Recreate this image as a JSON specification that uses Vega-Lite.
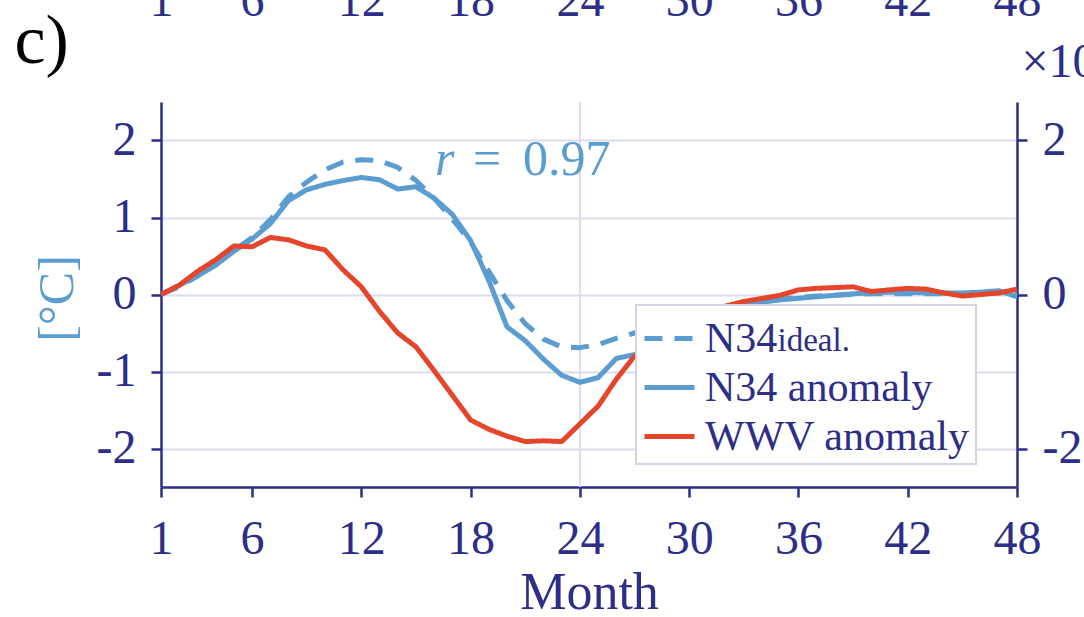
{
  "$schema": "https://vega.github.io/schema/vega-lite/v6.json",
  "width": 856,
  "height": 385,
  "autosize": "none",
  "padding": {"left": 161, "top": 102, "right": 67, "bottom": 130},
  "background": "white",
  "config": {
    "view": {"stroke": null},
    "font": "Liberation Serif",
    "axis": {
      "labelFont": "Liberation Serif",
      "titleFont": "Liberation Serif",
      "labelColor": "#2c2e87",
      "titleColor": "#2c2e87",
      "domainColor": "#2c2e87",
      "tickColor": "#2c2e87",
      "domainWidth": 2.5,
      "tickWidth": 2.5,
      "tickSize": 10,
      "labelFontSize": 48,
      "titleFontWeight": "normal",
      "labelFlush": false,
      "labelOverlap": false,
      "labelBound": false,
      "grid": false
    },
    "legend": {
      "orient": "none",
      "legendX": 475,
      "legendY": 203,
      "fillColor": "white",
      "strokeColor": "#d3d5e2",
      "strokeWidth": 2,
      "padding": 6,
      "symbolType": "stroke",
      "symbolSize": 2500,
      "symbolStrokeWidth": 5,
      "labelFont": "Liberation Serif",
      "labelFontSize": 42,
      "labelColor": "#2c2e87",
      "labelOffset": 8,
      "rowPadding": 0,
      "labelLimit": 400
    }
  },
  "datasets": {
    "series": [
      {"month":1,"series":"N34 anomaly","value":0.00},{"month":2,"series":"N34 anomaly","value":0.12},{"month":3,"series":"N34 anomaly","value":0.24},{"month":4,"series":"N34 anomaly","value":0.38},{"month":5,"series":"N34 anomaly","value":0.56},{"month":6,"series":"N34 anomaly","value":0.72},{"month":7,"series":"N34 anomaly","value":0.92},{"month":8,"series":"N34 anomaly","value":1.22},{"month":9,"series":"N34 anomaly","value":1.36},{"month":10,"series":"N34 anomaly","value":1.43},{"month":11,"series":"N34 anomaly","value":1.48},{"month":12,"series":"N34 anomaly","value":1.52},{"month":13,"series":"N34 anomaly","value":1.49},{"month":14,"series":"N34 anomaly","value":1.37},{"month":15,"series":"N34 anomaly","value":1.40},{"month":16,"series":"N34 anomaly","value":1.25},{"month":17,"series":"N34 anomaly","value":1.04},{"month":18,"series":"N34 anomaly","value":0.70},{"month":19,"series":"N34 anomaly","value":0.18},{"month":20,"series":"N34 anomaly","value":-0.42},{"month":21,"series":"N34 anomaly","value":-0.60},{"month":22,"series":"N34 anomaly","value":-0.84},{"month":23,"series":"N34 anomaly","value":-1.05},{"month":24,"series":"N34 anomaly","value":-1.14},{"month":25,"series":"N34 anomaly","value":-1.08},{"month":26,"series":"N34 anomaly","value":-0.83},{"month":27,"series":"N34 anomaly","value":-0.78},{"month":28,"series":"N34 anomaly","value":-0.62},{"month":29,"series":"N34 anomaly","value":-0.48},{"month":30,"series":"N34 anomaly","value":-0.36},{"month":31,"series":"N34 anomaly","value":-0.25},{"month":32,"series":"N34 anomaly","value":-0.16},{"month":33,"series":"N34 anomaly","value":-0.12},{"month":34,"series":"N34 anomaly","value":-0.10},{"month":35,"series":"N34 anomaly","value":-0.07},{"month":36,"series":"N34 anomaly","value":-0.05},{"month":37,"series":"N34 anomaly","value":-0.03},{"month":38,"series":"N34 anomaly","value":-0.01},{"month":39,"series":"N34 anomaly","value":0.01},{"month":40,"series":"N34 anomaly","value":0.02},{"month":41,"series":"N34 anomaly","value":0.03},{"month":42,"series":"N34 anomaly","value":0.03},{"month":43,"series":"N34 anomaly","value":0.02},{"month":44,"series":"N34 anomaly","value":0.02},{"month":45,"series":"N34 anomaly","value":0.02},{"month":46,"series":"N34 anomaly","value":0.03},{"month":47,"series":"N34 anomaly","value":0.05},{"month":48,"series":"N34 anomaly","value":-0.03},
      {"month":1,"series":"N34ideal.","value":0.00},{"month":2,"series":"N34ideal.","value":0.10},{"month":3,"series":"N34ideal.","value":0.24},{"month":4,"series":"N34ideal.","value":0.40},{"month":5,"series":"N34ideal.","value":0.57},{"month":6,"series":"N34ideal.","value":0.74},{"month":7,"series":"N34ideal.","value":0.97},{"month":8,"series":"N34ideal.","value":1.27},{"month":9,"series":"N34ideal.","value":1.46},{"month":10,"series":"N34ideal.","value":1.62},{"month":11,"series":"N34ideal.","value":1.72},{"month":12,"series":"N34ideal.","value":1.75},{"month":13,"series":"N34ideal.","value":1.74},{"month":14,"series":"N34ideal.","value":1.65},{"month":15,"series":"N34ideal.","value":1.48},{"month":16,"series":"N34ideal.","value":1.25},{"month":17,"series":"N34ideal.","value":0.98},{"month":18,"series":"N34ideal.","value":0.68},{"month":19,"series":"N34ideal.","value":0.30},{"month":20,"series":"N34ideal.","value":-0.08},{"month":21,"series":"N34ideal.","value":-0.38},{"month":22,"series":"N34ideal.","value":-0.58},{"month":23,"series":"N34ideal.","value":-0.68},{"month":24,"series":"N34ideal.","value":-0.69},{"month":25,"series":"N34ideal.","value":-0.65},{"month":26,"series":"N34ideal.","value":-0.57},{"month":27,"series":"N34ideal.","value":-0.50},{"month":28,"series":"N34ideal.","value":-0.42},{"month":29,"series":"N34ideal.","value":-0.34},{"month":30,"series":"N34ideal.","value":-0.27},{"month":31,"series":"N34ideal.","value":-0.21},{"month":32,"series":"N34ideal.","value":-0.16},{"month":33,"series":"N34ideal.","value":-0.12},{"month":34,"series":"N34ideal.","value":-0.09},{"month":35,"series":"N34ideal.","value":-0.06},{"month":36,"series":"N34ideal.","value":-0.04},{"month":37,"series":"N34ideal.","value":-0.02},{"month":38,"series":"N34ideal.","value":-0.01},{"month":39,"series":"N34ideal.","value":0.00},{"month":40,"series":"N34ideal.","value":0.01},{"month":41,"series":"N34ideal.","value":0.01},{"month":42,"series":"N34ideal.","value":0.01},{"month":43,"series":"N34ideal.","value":0.01},{"month":44,"series":"N34ideal.","value":0.01},{"month":45,"series":"N34ideal.","value":0.01},{"month":46,"series":"N34ideal.","value":0.01},{"month":47,"series":"N34ideal.","value":0.02},{"month":48,"series":"N34ideal.","value":0.02},
      {"month":1,"series":"WWV anomaly","value":0.00},{"month":2,"series":"WWV anomaly","value":0.12},{"month":3,"series":"WWV anomaly","value":0.30},{"month":4,"series":"WWV anomaly","value":0.45},{"month":5,"series":"WWV anomaly","value":0.63},{"month":6,"series":"WWV anomaly","value":0.62},{"month":7,"series":"WWV anomaly","value":0.74},{"month":8,"series":"WWV anomaly","value":0.71},{"month":9,"series":"WWV anomaly","value":0.63},{"month":10,"series":"WWV anomaly","value":0.58},{"month":11,"series":"WWV anomaly","value":0.32},{"month":12,"series":"WWV anomaly","value":0.10},{"month":13,"series":"WWV anomaly","value":-0.22},{"month":14,"series":"WWV anomaly","value":-0.50},{"month":15,"series":"WWV anomaly","value":-0.68},{"month":16,"series":"WWV anomaly","value":-0.99},{"month":17,"series":"WWV anomaly","value":-1.31},{"month":18,"series":"WWV anomaly","value":-1.63},{"month":19,"series":"WWV anomaly","value":-1.75},{"month":20,"series":"WWV anomaly","value":-1.84},{"month":21,"series":"WWV anomaly","value":-1.91},{"month":22,"series":"WWV anomaly","value":-1.90},{"month":23,"series":"WWV anomaly","value":-1.91},{"month":24,"series":"WWV anomaly","value":-1.68},{"month":25,"series":"WWV anomaly","value":-1.45},{"month":26,"series":"WWV anomaly","value":-1.10},{"month":27,"series":"WWV anomaly","value":-0.80},{"month":28,"series":"WWV anomaly","value":-0.62},{"month":29,"series":"WWV anomaly","value":-0.47},{"month":30,"series":"WWV anomaly","value":-0.34},{"month":31,"series":"WWV anomaly","value":-0.23},{"month":32,"series":"WWV anomaly","value":-0.15},{"month":33,"series":"WWV anomaly","value":-0.09},{"month":34,"series":"WWV anomaly","value":-0.05},{"month":35,"series":"WWV anomaly","value":-0.01},{"month":36,"series":"WWV anomaly","value":0.06},{"month":37,"series":"WWV anomaly","value":0.08},{"month":38,"series":"WWV anomaly","value":0.09},{"month":39,"series":"WWV anomaly","value":0.10},{"month":40,"series":"WWV anomaly","value":0.04},{"month":41,"series":"WWV anomaly","value":0.06},{"month":42,"series":"WWV anomaly","value":0.08},{"month":43,"series":"WWV anomaly","value":0.07},{"month":44,"series":"WWV anomaly","value":0.02},{"month":45,"series":"WWV anomaly","value":-0.02},{"month":46,"series":"WWV anomaly","value":0.00},{"month":47,"series":"WWV anomaly","value":0.02},{"month":48,"series":"WWV anomaly","value":0.07}
    ]
  },
  "resolve": {"axis": {"x": "independent", "y": "independent"}},
  "layer": [
    {
      "data": {"values": [{"month": 24}]},
      "mark": {"type": "rule", "color": "#dcdcef", "strokeWidth": 2},
      "encoding": {
        "x": {
          "field": "month", "type": "quantitative",
          "scale": {"domain": [1, 48], "nice": false, "zero": false},
          "axis": {
            "orient": "top", "values": [1, 6, 12, 18, 24, 30, 36, 42, 48],
            "domain": false, "ticks": false, "labelPadding": 87, "labelBaseline": "alphabetic",
            "title": "c)", "titleColor": "black", "titleFontSize": 70,
            "titleX": -147, "titleY": -40, "titleAlign": "left", "titleBaseline": "alphabetic"
          }
        }
      }
    },
    {
      "data": {"name": "series"},
      "transform": [{"filter": "datum.series != 'WWV anomaly'"}],
      "mark": {"type": "line", "strokeWidth": 5, "strokeJoin": "round"},
      "encoding": {
        "x": {
          "field": "month", "type": "quantitative",
          "scale": {"domain": [1, 48], "nice": false, "zero": false},
          "axis": {
            "orient": "bottom", "values": [1, 6, 12, 18, 24, 30, 36, 42, 48],
            "labelPadding": 56, "labelBaseline": "alphabetic",
            "title": "Month", "titleFontSize": 52, "titleX": 428, "titleY": 121,
            "titleAlign": "center", "titleBaseline": "alphabetic"
          }
        },
        "y": {
          "field": "value", "type": "quantitative",
          "scale": {"domain": [-2.5, 2.5], "nice": false, "zero": false},
          "axis": {
            "orient": "left", "values": [-2, -1, 0, 1, 2], "labelExpr": "'' + datum.value",
            "labelPadding": 15, "labelBaseline": "middle",
            "grid": true, "gridColor": "#dcdcef", "gridWidth": 2,
            "title": "[°C]", "titleColor": "#5b9dd0", "titleFontSize": 50,
            "titleX": -104, "titleY": 196, "titleAngle": 270, "titleAlign": "center", "titleBaseline": "middle"
          }
        },
        "color": {
          "field": "series", "type": "nominal",
          "scale": {"domain": ["N34ideal.", "N34 anomaly", "WWV anomaly"], "range": ["#5b9dd0", "#5b9dd0", "#e5452a"]},
          "legend": {"title": null, "labelExpr": "datum.label == 'N34ideal.' ? 'N34' : (datum.label == 'WWV anomaly' ? 'WWV anomaly    ' : datum.label)"}
        },
        "strokeDash": {
          "field": "series", "type": "nominal",
          "scale": {"domain": ["N34ideal.", "N34 anomaly", "WWV anomaly"], "range": [[18, 12], [1, 0], [1, 0]]},
          "legend": {"title": null, "labelExpr": "datum.label == 'N34ideal.' ? 'N34' : (datum.label == 'WWV anomaly' ? 'WWV anomaly    ' : datum.label)"}
        }
      }
    },
    {
      "data": {"name": "series"},
      "transform": [{"filter": "datum.series == 'WWV anomaly'"}],
      "mark": {"type": "line", "strokeWidth": 5, "strokeJoin": "round"},
      "encoding": {
        "x": {"field": "month", "type": "quantitative", "scale": {"domain": [1, 48], "nice": false, "zero": false}, "axis": null},
        "y": {
          "field": "value", "type": "quantitative",
          "scale": {"domain": [-2.5, 2.5], "nice": false, "zero": false},
          "axis": {
            "orient": "right", "values": [-2, 0, 2], "labelExpr": "'' + datum.value",
            "labelPadding": 15, "labelBaseline": "middle",
            "title": "×10", "titleFontSize": 48, "titleAngle": 0,
            "titleX": 4, "titleY": -26, "titleAlign": "left", "titleBaseline": "alphabetic"
          }
        },
        "color": {
          "field": "series", "type": "nominal",
          "scale": {"domain": ["N34ideal.", "N34 anomaly", "WWV anomaly"], "range": ["#5b9dd0", "#5b9dd0", "#e5452a"]},
          "legend": {"title": null, "labelExpr": "datum.label == 'N34ideal.' ? 'N34' : (datum.label == 'WWV anomaly' ? 'WWV anomaly    ' : datum.label)"}
        },
        "strokeDash": {
          "field": "series", "type": "nominal",
          "scale": {"domain": ["N34ideal.", "N34 anomaly", "WWV anomaly"], "range": [[18, 12], [1, 0], [1, 0]]},
          "legend": {"title": null, "labelExpr": "datum.label == 'N34ideal.' ? 'N34' : (datum.label == 'WWV anomaly' ? 'WWV anomaly    ' : datum.label)"}
        }
      }
    },
    {
      "data": {"values": [{"month": 16.04, "value": 1.552, "label": "r"}]},
      "mark": {"type": "text", "align": "left", "baseline": "alphabetic", "fontSize": 50, "fontStyle": "italic", "color": "#5b9dd0", "font": "Liberation Serif"},
      "encoding": {
        "x": {"field": "month", "type": "quantitative", "scale": {"domain": [1, 48], "nice": false, "zero": false}, "axis": null},
        "y": {"field": "value", "type": "quantitative", "scale": {"domain": [-2.5, 2.5], "nice": false, "zero": false}, "axis": null},
        "text": {"field": "label"}
      }
    },
    {
      "data": {"values": [{"month": 18.13, "value": 1.552, "label": "="}, {"month": 20.88, "value": 1.552, "label": "0.97"}]},
      "mark": {"type": "text", "align": "left", "baseline": "alphabetic", "fontSize": 50, "color": "#5b9dd0", "font": "Liberation Serif"},
      "encoding": {
        "x": {
          "field": "month", "type": "quantitative", "scale": {"domain": [1, 48], "nice": false, "zero": false},
          "axis": {
            "orient": "top", "labels": false, "ticks": false, "domain": false, "grid": false,
            "title": "ideal.", "titleFontSize": 33, "titleColor": "#2c2e87",
            "titleX": 616, "titleY": 248, "titleAlign": "left", "titleBaseline": "alphabetic",
            "zindex": 1
          }
        },
        "y": {"field": "value", "type": "quantitative", "scale": {"domain": [-2.5, 2.5], "nice": false, "zero": false}, "axis": null},
        "text": {"field": "label"}
      }
    }
  ]
}
